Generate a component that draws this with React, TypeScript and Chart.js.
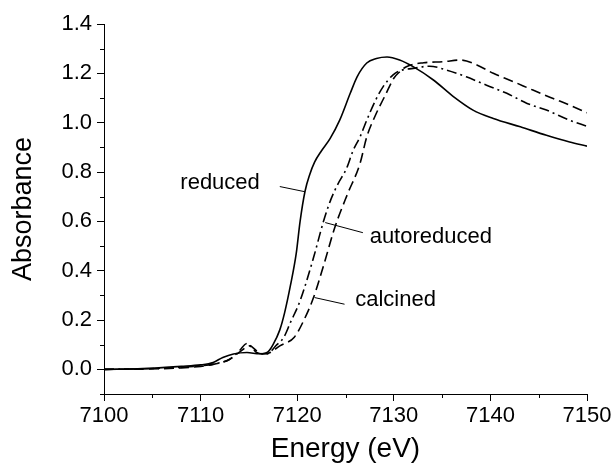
import React, { useEffect, useRef } from "react";
import { Chart, registerables } from "chart.js";
Chart.register(...registerables);

// ---- data ----
const reducedE = [7100, 7104, 7108, 7110, 7111.3, 7112.3, 7113.4, 7114.8, 7116.1, 7117, 7117.5, 7118.2, 7118.7, 7119.3, 7119.9, 7120.3, 7120.8, 7121.3, 7121.8, 7122.5, 7123.4, 7124.4, 7125.5, 7126.2, 7127.2, 7128.2, 7129.3, 7130.6, 7132, 7134.1, 7136.2, 7138.2, 7140.3, 7143.1, 7145.8, 7148.2, 7150];
const reducedA = [0.0, 0.003, 0.012, 0.018, 0.028, 0.048, 0.062, 0.068, 0.063, 0.072, 0.1, 0.16, 0.23, 0.34, 0.47, 0.6, 0.72, 0.79, 0.84, 0.885, 0.935, 1.01, 1.12, 1.186, 1.242, 1.26, 1.266, 1.254, 1.227, 1.173, 1.105, 1.051, 1.017, 0.983, 0.949, 0.922, 0.905];

const autoE = [7100, 7104, 7108, 7110, 7111.3, 7113, 7114, 7114.8, 7115.4, 7115.8, 7116.8, 7117.9, 7118.6, 7119.3, 7120.3, 7121.7, 7122.7, 7123.5, 7124.2, 7125.1, 7125.8, 7126.5, 7127.2, 7128.1, 7128.9, 7129.9, 7130.6, 7132, 7133.7, 7135.5, 7137.5, 7139.6, 7141.7, 7143.8, 7145.8, 7148.2, 7150];
const autoA = [0.0, 0.002, 0.008, 0.014, 0.021, 0.041, 0.075, 0.105, 0.085, 0.068, 0.062, 0.1, 0.129, 0.19, 0.278, 0.454, 0.597, 0.69, 0.75, 0.814, 0.888, 0.942, 1.01, 1.09, 1.146, 1.193, 1.21, 1.22, 1.229, 1.213, 1.186, 1.152, 1.119, 1.078, 1.051, 1.01, 0.985];

const calcE = [7100, 7104, 7108, 7110, 7111.3, 7113, 7114.2, 7115.1, 7115.8, 7116.5, 7117.3, 7118.2, 7119.7, 7120.7, 7121.7, 7122.8, 7123.9, 7125.2, 7126.5, 7127.2, 7128.1, 7129.1, 7130, 7130.6, 7131.3, 7133.1, 7135.1, 7136.9, 7138.6, 7140.3, 7142.4, 7144.4, 7146.5, 7148.2, 7150];
const calcA = [0.0, 0.001, 0.006, 0.012, 0.02, 0.04, 0.075, 0.095, 0.075, 0.062, 0.07, 0.095, 0.13, 0.2, 0.292, 0.43, 0.576, 0.71, 0.834, 0.942, 1.03, 1.11, 1.18, 1.206, 1.227, 1.243, 1.247, 1.254, 1.234, 1.2, 1.166, 1.132, 1.098, 1.071, 1.04];

const xMajorTicks = [7100, 7110, 7120, 7130, 7140, 7150];
const xMinorTicks = [7105, 7115, 7125, 7135, 7145];
const yMajorTicks = [0.0, 0.2, 0.4, 0.6, 0.8, 1.0, 1.2, 1.4];
const yMinorTicks = [-0.1, 0.1, 0.3, 0.5, 0.7, 0.9, 1.1, 1.3];

const seriesNames = ["reduced", "autoreduced", "calcined"];
// annotation: text anchor (E, A) and leader line from (E1, A1) to (E2, A2)
const labelTextE = [7107.9, 7127.5, 7126.0];
const labelTextA = [0.755, 0.537, 0.28];
const leaderStartE = [7118.2, 7126.8, 7124.9];
const leaderStartA = [0.741, 0.554, 0.264];
const leaderEndE = [7120.8, 7122.9, 7121.8];
const leaderEndA = [0.72, 0.595, 0.291];

const FONT = "'Liberation Sans', Arial, Helvetica, sans-serif";

function pts(xs: number[], ys: number[]) {
  return xs.map((x, i) => ({ x, y: ys[i] }));
}

export default function App() {
  const ref = useRef<HTMLCanvasElement>(null);

  useEffect(() => {
    if (!ref.current) return;
    Chart.defaults.font.family = FONT;

    const minorTicksPlugin = {
      id: "minorTicks",
      afterDraw(chart: any) {
        const { ctx, chartArea, scales } = chart;
        ctx.save();
        ctx.strokeStyle = "#000";
        ctx.lineWidth = 1;
        ctx.beginPath();
        for (const v of yMinorTicks) {
          const y = Math.round(scales.y.getPixelForValue(v)) + 0.5;
          ctx.moveTo(chartArea.left, y);
          ctx.lineTo(chartArea.left - 4, y);
        }
        for (const v of xMinorTicks) {
          const x = Math.round(scales.x.getPixelForValue(v)) + 0.5;
          ctx.moveTo(x, chartArea.bottom);
          ctx.lineTo(x, chartArea.bottom + 4);
        }
        ctx.stroke();
        ctx.restore();
      },
    };

    const annotationPlugin = {
      id: "seriesLabels",
      afterDatasetsDraw(chart: any) {
        const { ctx, scales } = chart;
        ctx.save();
        ctx.fillStyle = "#000";
        ctx.strokeStyle = "#000";
        ctx.lineWidth = 1;
        ctx.font = `22px ${FONT}`;
        ctx.textBaseline = "middle";
        ctx.textAlign = "left";
        seriesNames.forEach((name, i) => {
          ctx.fillText(name, scales.x.getPixelForValue(labelTextE[i]), scales.y.getPixelForValue(labelTextA[i]));
          ctx.beginPath();
          ctx.moveTo(scales.x.getPixelForValue(leaderStartE[i]), scales.y.getPixelForValue(leaderStartA[i]));
          ctx.lineTo(scales.x.getPixelForValue(leaderEndE[i]), scales.y.getPixelForValue(leaderEndA[i]));
          ctx.stroke();
        });
        ctx.restore();
      },
    };

    const common = {
      borderColor: "#000",
      borderWidth: 1.6,
      pointRadius: 0,
      fill: false,
      cubicInterpolationMode: "monotone" as const,
    };

    const chart = new Chart(ref.current, {
      type: "line",
      data: {
        datasets: [
          { ...common, label: "reduced", data: pts(reducedE, reducedA) },
          { ...common, label: "autoreduced", data: pts(autoE, autoA), borderDash: [10, 4, 2, 4] },
          { ...common, label: "calcined", data: pts(calcE, calcA), borderDash: [10, 5] },
        ],
      },
      options: {
        responsive: false,
        animation: false,
        devicePixelRatio: 1,
        layout: { padding: { left: 0, right: 28, top: 24, bottom: 0 } },
        plugins: { legend: { display: false }, tooltip: { enabled: false } },
        scales: {
          x: {
            type: "linear",
            min: 7100,
            max: 7150,
            afterBuildTicks: (s: any) => {
              s.ticks = xMajorTicks.map((v) => ({ value: v }));
            },
            afterFit: (s: any) => {
              s.height = 79;
            },
            ticks: {
              color: "#000",
              font: { size: 22 },
              padding: 2,
              maxRotation: 0,
              autoSkip: false,
              callback: (v: any) => String(v),
            },
            grid: { display: true, drawOnChartArea: false, drawTicks: true, tickLength: 7, color: "#000", lineWidth: 1 },
            border: { display: true, color: "#000", width: 1 },
            title: { display: true, text: "Energy (eV)", color: "#000", font: { size: 28 }, padding: { top: 0, bottom: 7 } },
          },
          y: {
            type: "linear",
            min: -0.1,
            max: 1.4,
            afterBuildTicks: (s: any) => {
              s.ticks = yMajorTicks.map((v) => ({ value: v }));
            },
            afterFit: (s: any) => {
              s.width = 104;
            },
            ticks: {
              color: "#000",
              font: { size: 22 },
              padding: 5,
              autoSkip: false,
              callback: (v: any) => Number(v).toFixed(1),
            },
            grid: { display: true, drawOnChartArea: false, drawTicks: true, tickLength: 7, color: "#000", lineWidth: 1 },
            border: { display: true, color: "#000", width: 1 },
            title: { display: true, text: "Absorbance", color: "#000", font: { size: 27 }, padding: { top: 7, bottom: 0 } },
          },
        },
      },
      plugins: [minorTicksPlugin, annotationPlugin],
    } as any);

    return () => chart.destroy();
  }, []);

  return (
    <div style={{ position: "absolute", left: 0, top: 0, width: 615, height: 473, background: "#fff" }}>
      <canvas ref={ref} width={615} height={473} style={{ display: "block" }} />
    </div>
  );
}
